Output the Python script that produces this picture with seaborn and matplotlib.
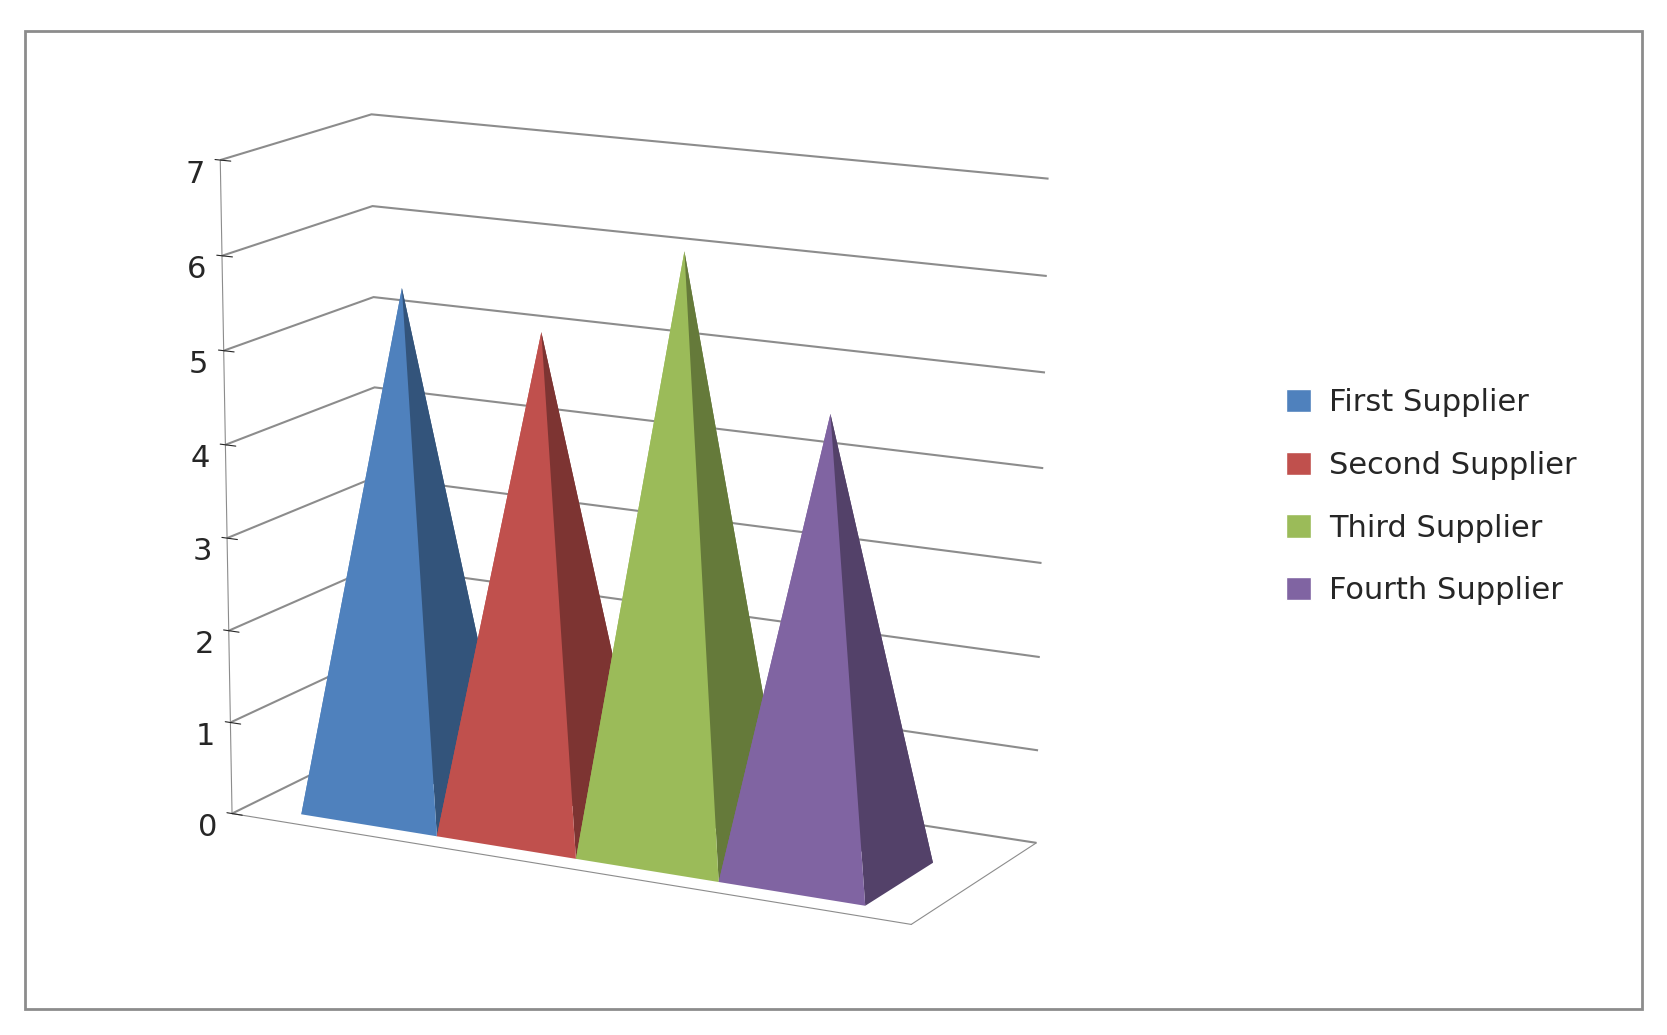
import numpy as np
import matplotlib
matplotlib.use('Agg')
import matplotlib.pyplot as plt
import seaborn as sns
from mpl_toolkits.mplot3d.art3d import Poly3DCollection
from matplotlib.patches import Rectangle, Patch
import matplotlib.colors as mcolors

# data
suppliers = ['First Supplier', 'Second Supplier', 'Third Supplier', 'Fourth Supplier']
values = [5.6, 5.3, 6.3, 4.8]
colors = ['#4F81BD', '#C0504D', '#9BBB59', '#8064A2']

sns.set_style('white')
plt.rcParams['font.family'] = ['DejaVu Sans']

fig = plt.figure(figsize=(16.67, 10.35), dpi=100)
fig.patches.append(Rectangle((0.015, 0.025), 0.97, 0.945, transform=fig.transFigure,
                             fill=False, edgecolor='#8c8c8c', lw=2))

ax = fig.add_subplot(projection='3d')
ax.set_position([-0.04, 0.0, 0.82, 1.0])

def shade(c, f):
    r, g, b = mcolors.to_rgb(c)
    return (r * f, g * f, b * f)

faces, fcols = [], []
hw, hd = 0.5, 0.5
for i, (v, c) in enumerate(zip(values, colors)):
    x0, x1 = i - hw, i + hw
    y0, y1 = -hd, hd
    apex = (i, 0, v)
    faces += [[(x0, y0, 0), (x1, y0, 0), apex],   # front
              [(x1, y0, 0), (x1, y1, 0), apex],   # right
              [(x0, y0, 0), (x0, y1, 0), apex],   # left
              [(x0, y1, 0), (x1, y1, 0), apex]]   # back
    fcols += [c, shade(c, 0.65), c, shade(c, 0.65)]

ax.add_collection3d(Poly3DCollection(faces, facecolors=fcols, edgecolors='none'))

ax.set_xlim(-0.9, len(values) - 0.1)
ax.set_ylim(-0.7, 1.2)
ax.set_zlim(0, 7)
ax.set_zticks(range(0, 8))
ax.set_xticks([])
ax.set_yticks([])
ax.zaxis._axinfo['juggled'] = (1, 2, 0)
ax.tick_params(axis='z', labelsize=22, pad=4)
ax.view_init(elev=14, azim=-62)
ax.set_box_aspect((2.6, 1.0, 2.3))

for axis in (ax.xaxis, ax.yaxis, ax.zaxis):
    axis.set_pane_color((1, 1, 1, 0))
    axis.pane.set_edgecolor('#8c8c8c')
    axis._axinfo['grid']['color'] = '#8c8c8c'
    axis._axinfo['grid']['linewidth'] = 1.5
    axis.line.set_color('#8c8c8c')

handles = [Patch(facecolor=c, label=s) for s, c in zip(suppliers, colors)]
fig.legend(handles=handles, loc='center left', bbox_to_anchor=(0.755, 0.52), frameon=False,
           fontsize=22, handlelength=0.8, handleheight=0.8, labelspacing=1.1, handletextpad=0.6)

fig.savefig('out.png', dpi=100)
